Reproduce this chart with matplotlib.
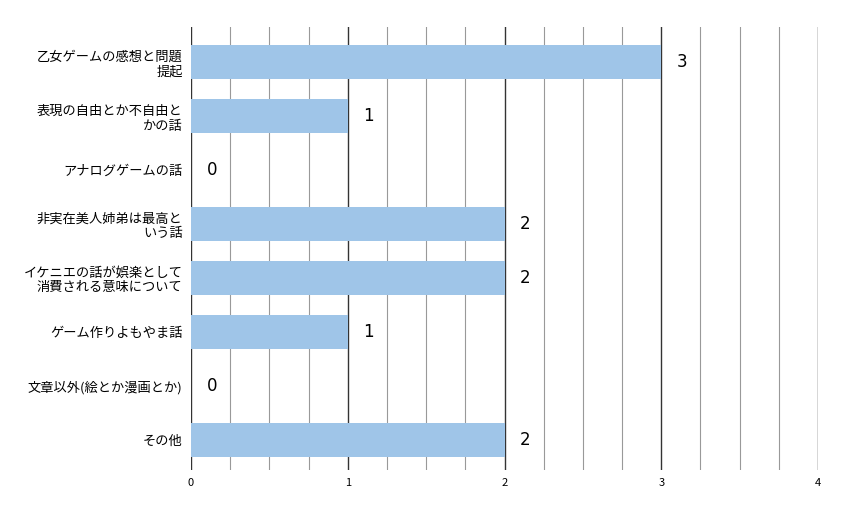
import matplotlib.pyplot as plt
from matplotlib.ticker import MultipleLocator

plt.rcParams['font.family'] = ['Noto Sans CJK JP', 'DejaVu Sans']

categories = [
    "乙女ゲームの感想と問題\n提起",
    "表現の自由とか不自由と\nかの話",
    "アナログゲームの話",
    "非実在美人姉弟は最高と\nいう話",
    "イケニエの話が娯楽として\n消費される意味について",
    "ゲーム作りよもやま話",
    "文章以外(絵とか漫画とか)",
    "その他",
]
counts = [3, 1, 0, 2, 2, 1, 0, 2]

fig = plt.figure(figsize=(8.44, 5.21), dpi=100)
ax = fig.add_axes([0.2263, 0.098, 0.7429, 0.850])

y = list(range(len(categories)))
ax.barh(y, counts, height=0.63, color="#9fc5e8", zorder=3)
for yi, c in zip(y, counts):
    ax.text(c + 0.1, yi, str(c), va="center", ha="left", fontsize=12,
            family="DejaVu Sans", zorder=4)

ax.set_xlim(0, 4)
ax.set_ylim(7.56, -0.65)
ax.set_yticks(y)
ax.set_yticklabels(categories, fontsize=9.5, ha="right", multialignment="right")
ax.xaxis.set_major_locator(MultipleLocator(1))
ax.xaxis.set_minor_locator(MultipleLocator(0.25))
ax.grid(which="major", axis="x", color="#333333", linewidth=1, zorder=0)
ax.grid(which="minor", axis="x", color="#999999", linewidth=0.8, zorder=0)
ax.tick_params(axis="x", which="both", length=0, labelsize=8, pad=6)
ax.tick_params(axis="y", length=0, pad=6)
for s in ax.spines.values():
    s.set_visible(False)

fig.savefig("out.png", dpi=100)
